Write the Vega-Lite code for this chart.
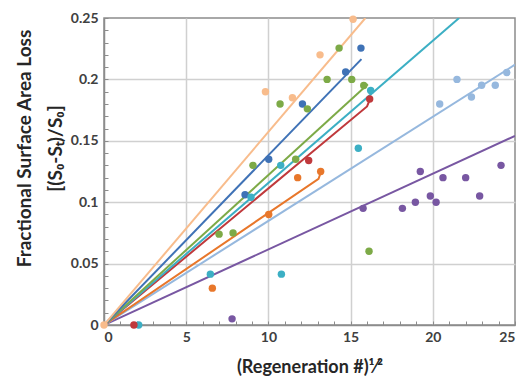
{
  "$schema": "https://vega.github.io/schema/vega-lite/v6.json",
  "width": 411,
  "height": 307,
  "autosize": {"type": "none"},
  "padding": {"left": 104, "top": 18, "right": 8, "bottom": 56},
  "background": "white",
  "config": {
    "view": {"stroke": "#8c8c8c", "strokeWidth": 1.5},
    "font": "Lato",
    "axis": {
      "labelFont": "Lato",
      "labelFontWeight": "bold",
      "labelFontSize": 14,
      "labelColor": "#404040",
      "titleFont": "Lato",
      "titleFontWeight": "bold",
      "titleFontSize": 18,
      "titleColor": "#262626",
      "domainColor": "#8c8c8c",
      "domainWidth": 1.5,
      "tickColor": "#8c8c8c",
      "tickWidth": 1,
      "tickSize": -4,
      "gridColor": "#d0d0d0",
      "gridWidth": 1.5
    }
  },
  "datasets": {
    "pts": [
      {"series": "peach", "x": 9.82, "y": 0.19},
      {"series": "peach", "x": 11.46, "y": 0.185},
      {"series": "peach", "x": 13.14, "y": 0.22},
      {"series": "peach", "x": 15.15, "y": 0.249},
      {"series": "blue", "x": 8.58, "y": 0.106},
      {"series": "blue", "x": 10.02, "y": 0.135},
      {"series": "blue", "x": 12.07, "y": 0.18},
      {"series": "blue", "x": 14.7, "y": 0.206},
      {"series": "blue", "x": 15.63, "y": 0.2255},
      {"series": "green", "x": 7.0, "y": 0.074},
      {"series": "green", "x": 7.85, "y": 0.075},
      {"series": "green", "x": 9.06, "y": 0.13},
      {"series": "green", "x": 10.71, "y": 0.18},
      {"series": "green", "x": 11.66, "y": 0.135},
      {"series": "green", "x": 12.37, "y": 0.176},
      {"series": "green", "x": 13.57, "y": 0.2},
      {"series": "green", "x": 14.3, "y": 0.2255},
      {"series": "green", "x": 15.07, "y": 0.2},
      {"series": "green", "x": 15.8, "y": 0.195},
      {"series": "green", "x": 16.12, "y": 0.06},
      {"series": "cyan", "x": 2.11, "y": 0},
      {"series": "cyan", "x": 6.47, "y": 0.0414},
      {"series": "cyan", "x": 8.94, "y": 0.104},
      {"series": "cyan", "x": 10.75, "y": 0.13},
      {"series": "cyan", "x": 10.79, "y": 0.0414},
      {"series": "cyan", "x": 15.47, "y": 0.144},
      {"series": "cyan", "x": 16.22, "y": 0.191},
      {"series": "red", "x": 1.82, "y": 0},
      {"series": "red", "x": 12.45, "y": 0.134},
      {"series": "red", "x": 16.16, "y": 0.184},
      {"series": "orange", "x": 6.59, "y": 0.03},
      {"series": "orange", "x": 10.02, "y": 0.09},
      {"series": "orange", "x": 11.78, "y": 0.12},
      {"series": "orange", "x": 13.18, "y": 0.125},
      {"series": "lightblue", "x": 20.42, "y": 0.18},
      {"series": "lightblue", "x": 21.47, "y": 0.2},
      {"series": "lightblue", "x": 22.35, "y": 0.1857},
      {"series": "lightblue", "x": 22.97, "y": 0.1953},
      {"series": "lightblue", "x": 23.8, "y": 0.1953},
      {"series": "lightblue", "x": 24.5, "y": 0.2056},
      {"series": "purple", "x": 7.79, "y": 0.005},
      {"series": "purple", "x": 15.76, "y": 0.095},
      {"series": "purple", "x": 18.15, "y": 0.095},
      {"series": "purple", "x": 18.94, "y": 0.1},
      {"series": "purple", "x": 19.24, "y": 0.125},
      {"series": "purple", "x": 19.85, "y": 0.105},
      {"series": "purple", "x": 20.2, "y": 0.1},
      {"series": "purple", "x": 20.62, "y": 0.12},
      {"series": "purple", "x": 22.0, "y": 0.12},
      {"series": "purple", "x": 22.85, "y": 0.105},
      {"series": "purple", "x": 24.15, "y": 0.13},
      {"series": "peach", "x": 0, "y": 0}
    ],
    "lines": [
      {"series": "purple", "o": 0, "x": 0, "y": 0},
      {"series": "purple", "o": 1, "x": 25, "y": 0.154},
      {"series": "lightblue", "o": 0, "x": 0, "y": 0},
      {"series": "lightblue", "o": 1, "x": 25, "y": 0.212},
      {"series": "orange", "o": 0, "x": 0, "y": 0},
      {"series": "orange", "o": 1, "x": 13.05, "y": 0.119},
      {"series": "orange", "o": 2, "x": 13.18, "y": 0.124},
      {"series": "red", "o": 0, "x": 0, "y": 0},
      {"series": "red", "o": 1, "x": 16.0, "y": 0.178},
      {"series": "red", "o": 2, "x": 16.15, "y": 0.183},
      {"series": "cyan", "o": 0, "x": 0, "y": 0},
      {"series": "cyan", "o": 1, "x": 21.6, "y": 0.25},
      {"series": "green", "o": 0, "x": 0, "y": 0},
      {"series": "green", "o": 1, "x": 16.05, "y": 0.196},
      {"series": "blue", "o": 0, "x": 0, "y": 0},
      {"series": "blue", "o": 1, "x": 15.66, "y": 0.2165},
      {"series": "peach", "o": 0, "x": 0, "y": 0},
      {"series": "peach", "o": 1, "x": 15.9, "y": 0.25}
    ]
  },
  "encoding": {
    "x": {
      "field": "x",
      "type": "quantitative",
      "scale": {"domain": [0, 25], "nice": false},
      "axis": {
        "title": "(Regeneration #)¹⁄²",
        "values": [0,1,2,3,4,5,6,7,8,9,10,11,12,13,14,15,16,17,18,19,20,21,22,23,24,25],
        "labelExpr": "datum.value % 5 === 0 ? datum.label : ''",
        "gridOpacity": {"condition": {"test": "datum.value % 5 === 0 && datum.value > 0 && datum.value < 25", "value": 1}, "value": 0},
        "labelPadding": 9,
        "titlePadding": 14
      }
    },
    "y": {
      "field": "y",
      "type": "quantitative",
      "scale": {"domain": [0, 0.25], "nice": false},
      "axis": {
        "title": ["Fractional Surface Area Loss", "[(S₀-Sₜ)/S₀]"],
        "values": [0,0.01,0.02,0.03,0.04,0.05,0.06,0.07,0.08,0.09,0.1,0.11,0.12,0.13,0.14,0.15,0.16,0.17,0.18,0.19,0.2,0.21,0.22,0.23,0.24,0.25],
        "labelExpr": "round(datum.value * 100) % 5 === 0 ? format(datum.value, '~g') : ''",
        "gridOpacity": {"condition": {"test": "round(datum.value * 100) % 5 === 0 && datum.value > 0.001 && datum.value < 0.249", "value": 1}, "value": 0},
        "labelPadding": 10,
        "titleFontSize": 19,
        "titleLineHeight": 31,
        "titleBaseline": "middle",
        "titleAlign": "center",
        "titleX": -80,
        "titleY": 130,
        "titleAngle": -90
      }
    },
    "color": {
      "field": "series",
      "type": "nominal",
      "legend": null,
      "scale": {
        "domain": ["peach", "blue", "green", "cyan", "red", "orange", "lightblue", "purple"],
        "range": ["#F8BC8C", "#3F72B6", "#7DAA47", "#3CAFC4", "#C0393C", "#E8772B", "#96B8DE", "#7857A2"]
      }
    }
  },
  "layer": [
    {
      "data": {"name": "lines"},
      "mark": {"type": "line", "strokeWidth": 2, "clip": true},
      "encoding": {
        "order": {"field": "o", "type": "quantitative"},
        "detail": {"field": "series"}
      }
    },
    {
      "data": {"name": "pts"},
      "mark": {"type": "circle", "size": 55, "opacity": 1}
    }
  ]
}
